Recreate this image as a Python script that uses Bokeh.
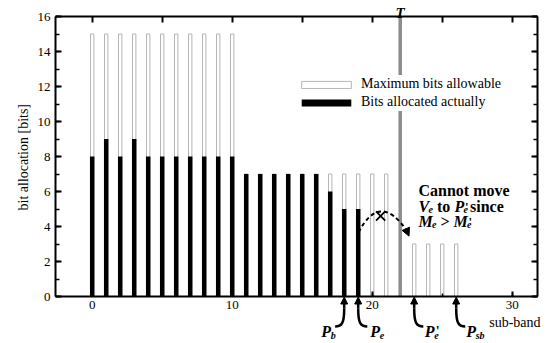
from bokeh.plotting import figure
from bokeh.models import (Range1d, LinearAxis, SingleIntervalTicker, Legend, LegendItem,
                          ColumnDataSource, Arrow, NormalHead, Title)
from bokeh.core.properties import value
from bokeh.embed import file_html
from bokeh.resources import INLINE

# ---------------- data ----------------
subbands = [0, 1, 2, 3, 4, 5, 6, 7, 8, 9, 10,
            11, 12, 13, 14, 15, 16, 17, 18, 19, 20, 21,
            23, 24, 25, 26]
max_bits = [15, 15, 15, 15, 15, 15, 15, 15, 15, 15, 15,
            7, 7, 7, 7, 7, 7, 7, 7, 7, 7, 7,
            3, 3, 3, 3]
alloc_bits = [8, 9, 8, 9, 8, 8, 8, 8, 8, 8, 8,
              7, 7, 7, 7, 7, 7, 6, 5, 5, 0, 0,
              0, 0, 0, 0]
y_ticks = [0, 2, 4, 6, 8, 10, 12, 14, 16]
x_ticks = [0, 10, 20, 30]
T_BAND = 22
P_B, P_E, P_E1, P_SB = 18, 19, 23, 26
Y_TOP = 16
series_labels = ["Maximum bits allowable", "Bits allocated actually"]
y_title = "bit allocation [bits]"
x_title = "sub-band"

# ---------------- layout ----------------
PX_X = 14.0      # px per sub-band
PX_Y = 17.5      # px per bit
X0_PX, Y0_PX = 91.7, 296.0
W, H = 552, 343
LEFT = 55
X_START = -(X0_PX - LEFT) / PX_X
X_END = (W - X0_PX) / PX_X
X_HI = (537 - X0_PX) / PX_X
Y_START = -(H - Y0_PX) / PX_Y
Y_END = Y0_PX / PX_Y

SERIF = "Liberation Serif"

p = figure(width=W, height=H, x_range=Range1d(X_START, X_END), y_range=Range1d(Y_START, Y_END),
           output_backend="svg", toolbar_location=None, x_axis_location=None,
           y_axis_location=None, min_border=0, min_border_left=LEFT, min_border_right=0,
           min_border_top=0, min_border_bottom=0, outline_line_color=None)
for g in p.grid:
    g.visible = False

# ---------------- axes ----------------
def style_axis(ax):
    ax.axis_line_width = 2
    ax.axis_line_color = "black"
    ax.major_tick_line_width = 2
    ax.minor_tick_line_width = 1.5
    ax.major_tick_line_color = "black"
    ax.minor_tick_line_color = "black"
    ax.major_label_text_font = SERIF
    ax.major_label_text_font_size = "13px"
    ax.major_label_text_color = "black"

def hide_labels(ax):
    ax.major_label_text_font_size = "0px"
    ax.major_label_text_color = None
    ax.major_label_text_alpha = 0
    ax.major_label_standoff = 0

yl = LinearAxis(ticker=SingleIntervalTicker(interval=2, num_minor_ticks=2), bounds=(y_ticks[0], y_ticks[-1]))
style_axis(yl)
yl.major_tick_in, yl.major_tick_out = 6, 0
yl.minor_tick_in, yl.minor_tick_out = 4, 0
yl.major_label_standoff = 5
p.add_layout(yl, "left")

ytitle = Title(text=y_title, align="left", offset=133, standoff=8, text_font=SERIF,
               text_font_size="14px", text_font_style="normal", text_color="black")
p.add_layout(ytitle, "left")

yr = LinearAxis(ticker=SingleIntervalTicker(interval=2, num_minor_ticks=2), bounds=(y_ticks[0], y_ticks[-1]),
                fixed_location=X_HI)
style_axis(yr)
yr.major_tick_in, yr.major_tick_out = 6, 0
yr.minor_tick_in, yr.minor_tick_out = 4, 0
hide_labels(yr)
p.add_layout(yr, "right")

xt = LinearAxis(ticker=SingleIntervalTicker(interval=5, num_minor_ticks=0), bounds=(X_START, X_HI),
                fixed_location=Y_TOP)
style_axis(xt)
xt.major_tick_in, xt.major_tick_out = 6, 0
hide_labels(xt)
p.add_layout(xt, "above")

xb = LinearAxis(ticker=SingleIntervalTicker(interval=x_ticks[1] - x_ticks[0], num_minor_ticks=2),
                bounds=(X_START, X_HI), fixed_location=0)
style_axis(xb)
xb.major_tick_in, xb.major_tick_out = 0, 5
xb.minor_tick_in, xb.minor_tick_out = 0, 3
xb.major_label_standoff = -17
p.add_layout(xb, "above")

# ---------------- bars ----------------
src = ColumnDataSource(dict(x=subbands, mx=max_bits, al=alloc_bits))
r_max = p.vbar(x="x", top="mx", bottom=0, width=0.24, source=src, fill_color="white",
               line_color="#b4b4b4", line_width=1)
r_alloc = p.vbar(x="x", top="al", bottom=0, width=0.32, source=src, fill_color="black",
                 line_color=None)

# threshold line T
p.segment(x0=[T_BAND], y0=[0], x1=[T_BAND], y1=[Y_TOP], line_color="#8c8c8c", line_width=3.5)

# ---------------- legend ----------------
legend = Legend(items=[LegendItem(label=series_labels[0], renderers=[r_max]),
                       LegendItem(label=series_labels[1], renderers=[r_alloc])],
                location=(240, 232), orientation="vertical", glyph_width=62, glyph_height=9,
                label_height=18, label_standoff=4, spacing=0, padding=2, margin=0,
                border_line_color=None, background_fill_color="white", background_fill_alpha=1.0,
                label_text_font=SERIF, label_text_font_size="14px", label_text_color="black")
p.add_layout(legend, "center")

# ---------------- text helper ----------------
def txt(x, y, s, size, style="normal", dx=0, dy=0, align="left"):
    p.text(x=[x], y=[y], text=[s], x_offset=dx, y_offset=dy, text_font=value(SERIF),
           text_font_size=f"{size}px", text_font_style=style, text_align=align,
           text_baseline="alphabetic", text_color="black")

BI = "bold italic"
# T label
txt(T_BAND, Y_TOP, "T", 15, BI, dx=0, dy=-4, align="center")
# sub-band label
txt(x_ticks[-1], 0, x_title, 14, "normal", dx=-23, dy=26)

# note text
NX, NY = (418 - X0_PX) / PX_X, (Y0_PX - 190) / PX_Y
txt(NX, NY, "Cannot move", 16, "bold", 0, 0)
l2 = 15.5
txt(NX, NY, "V", 16, BI, 0, l2)
txt(NX, NY, "e", 10, BI, 10, l2 + 3)
txt(NX, NY, "to", 16, "bold", 18.5, l2)
txt(NX, NY, "P", 16, BI, 36, l2)
txt(NX, NY, "e", 10, BI, 45, l2 + 3)
txt(NX, NY, "'", 13, "bold", 46.5, l2)
txt(NX, NY, "since", 16, "bold", 51.5, l2)
l3 = 31
txt(NX, NY, "M", 16, BI, 0, l3)
txt(NX, NY, "e", 10, BI, 13.5, l3 + 3)
txt(NX, NY, ">", 16, "bold", 22, l3)
txt(NX, NY, "M", 16, BI, 35, l3)
txt(NX, NY, "e", 10, BI, 48.5, l3 + 3)
txt(NX, NY, "'", 13, "bold", 50.0, l3)

# dashed "cannot move" arc with arrow and cross
arc_start = (P_E + 0.02, 3.66)
arc_end = (22.45, 3.78)
p.quadratic(x0=[arc_start[0]], y0=[arc_start[1]], x1=[arc_end[0]], y1=[arc_end[1]],
            cx=[20.55], cy=[6.0], line_color="black", line_width=2, line_dash="4 3")
p.add_layout(Arrow(x_start=arc_end[0], y_start=arc_end[1], x_end=22.63, y_end=3.45,
                   line_width=2, end=NormalHead(size=8, fill_color="black", line_color="black")))
p.scatter(x=[20.6], y=[4.6], marker="x", size=13, line_width=1.8, line_color="black")

# bottom labels with curved arrows
marks = [P_B, P_E, P_E1, P_SB]
dirs = [-1, 1, 1, 1]
shaft_top = -0.7
for m, d in zip(marks, dirs):
    p.bezier(x0=[m], y0=[shaft_top], x1=[m + d * 0.65], y1=[-1.72],
             cx0=[m], cy0=[-1.5], cx1=[m + d * 0.15], cy1=[-1.72],
             line_color="black", line_width=2.5)
asrc = ColumnDataSource(dict(x0=marks, y0=[shaft_top] * 4, x1=marks, y1=[-0.03] * 4))
p.add_layout(Arrow(x_start="x0", y_start="y0", x_end="x1", y_end="y1", source=asrc,
                   line_width=2.5, end=NormalHead(size=7, fill_color="black", line_color="black")))

base = 35
sub = 39
txt(P_B, 0, "P", 16, BI, -23, base)
txt(P_B, 0, "b", 10, BI, -13.5, sub)
txt(P_E, 0, "P", 16, BI, 12, base)
txt(P_E, 0, "e", 10, BI, 21.5, sub)
txt(P_E1, 0, "P", 16, BI, 10.5, base)
txt(P_E1, 0, "e", 10, BI, 20, sub)
txt(P_E1, 0, "'", 14, "bold", 21.5, base)
txt(P_SB, 0, "P", 16, BI, 10, base)
txt(P_SB, 0, "sb", 10, BI, 19.5, sub)

open("out.html", "w").write(file_html(p, INLINE))
